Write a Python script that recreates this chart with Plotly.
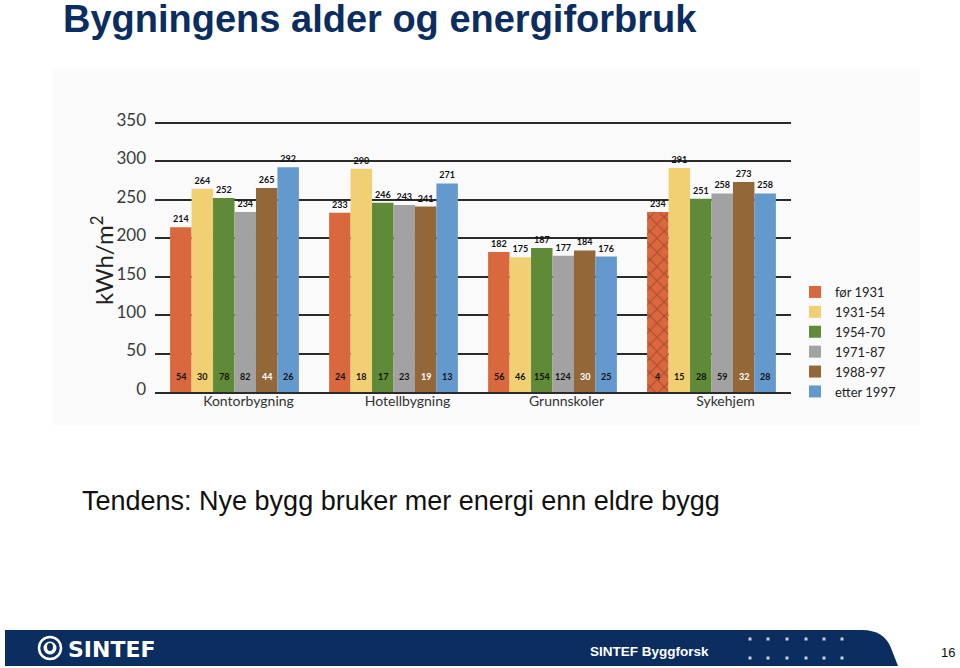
import plotly.graph_objects as go

W, H = 960, 668

# Data
BUILDINGS = ["Kontorbygning", "Hotellbygning", "Grunnskoler", "Sykehjem"]
PERIODS = ["før 1931", "1931-54", "1954-70", "1971-87", "1988-97", "etter 1997"]
KWH = {
    "før 1931":   [214, 233, 182, 234],
    "1931-54":    [264, 290, 175, 291],
    "1954-70":    [252, 246, 187, 251],
    "1971-87":    [234, 243, 177, 258],
    "1988-97":    [265, 241, 184, 273],
    "etter 1997": [292, 271, 176, 258],
}
COUNTS = {
    "før 1931":   [54, 24, 56, 4],
    "1931-54":    [30, 18, 46, 15],
    "1954-70":    [78, 17, 154, 28],
    "1971-87":    [82, 23, 124, 59],
    "1988-97":    [44, 19, 30, 32],
    "etter 1997": [26, 13, 25, 28],
}
HATCHED = ["", "", "", "x"]  # Sykehjem før 1931 is hatched
YTICKS = [0, 50, 100, 150, 200, 250, 300, 350]

# Palette
COLORS = ["#d9683f", "#f1cf73", "#5f8a37", "#a2a2a2", "#936737", "#6399cc"]
COUNT_TXT = ["#111", "#111", "#111", "#111", "#ffffff", "#111"]
NAVY = "#0b2d60"
GRID = "#2b2b2b"
FONT = "Lato"


def px(x):
    return x / W


def py(y):
    return 1 - y / H


# plot area in pixels: value 0 at Y0, 350 at Y350; range padded a bit so the
# top gridline sits inside the plot area
X0, X1 = 155, 791
Y0, Y350 = 392, 122.7
YMAX = 356
Y1 = Y0 - (Y0 - Y350) * YMAX / 350
BARGAP = 0.19
bar_px = (X1 - X0) / len(BUILDINGS) * (1 - BARGAP) / len(PERIODS)

fig = go.Figure()
for i, p in enumerate(PERIODS):
    fig.add_bar(
        x=BUILDINGS, y=KWH[p], name=p,
        marker=dict(color=COLORS[i], line_width=0,
                    pattern=dict(shape=HATCHED if i == 0 else "",
                                 fgcolor="#7a2e14", size=10, solidity=0.2)),
        text=KWH[p], textposition="outside", constraintext="none",
        textfont=dict(family=FONT, size=9, color="#111", weight="bold"),
        cliponaxis=False,
    )

# counts near bar bottoms
for i, p in enumerate(PERIODS):
    for b, c in zip(BUILDINGS, COUNTS[p]):
        fig.add_annotation(
            x=b, y=0, yshift=16, xshift=(i - (len(PERIODS) - 1) / 2) * bar_px,
            text=str(c), showarrow=False,
            font=dict(family=FONT, size=9, color=COUNT_TXT[i], weight="bold"),
        )

fig.update_layout(
    width=W, height=H, autosize=False,
    margin=dict(l=0, r=0, t=0, b=0, autoexpand=False),
    paper_bgcolor="white", plot_bgcolor="rgba(0,0,0,0)",
    barmode="group", bargap=BARGAP, bargroupgap=0,
    font=dict(family=FONT, color="#333"),
    xaxis=dict(domain=[px(X0), px(X1)], showgrid=False, showline=True,
               linecolor=GRID, linewidth=2, ticks="", automargin=False,
               tickfont=dict(family=FONT, size=14, color="#333"),
               ticklabelshift=14, ticklabelstandoff=-5),
    yaxis=dict(domain=[py(Y0), py(Y1)], range=[0, YMAX], tickvals=YTICKS,
               showgrid=True, gridcolor=GRID, gridwidth=1.5, zeroline=False,
               ticks="", ticklabelstandoff=8, ticklabelshift=-3, automargin=False,
               tickfont=dict(family=FONT, size=17, color="#3a3a3a")),
    legend=dict(x=px(795), y=py(277), xanchor="left", yanchor="top",
                font=dict(family=FONT, size=13, color="#222"),
                bgcolor="rgba(0,0,0,0)", tracegroupgap=0),
    showlegend=True,
)

shapes = [
    # faint background of the embedded chart image
    dict(type="rect", xref="paper", yref="paper", x0=px(53), x1=px(920),
         y0=py(425), y1=py(68), fillcolor="#fafafa", line_width=0, layer="below"),
    # footer band with rounded right end
    dict(type="path", xref="paper", yref="paper", layer="above", line_width=0,
         fillcolor=NAVY,
         path=f"M {px(5)},{py(630)} L {px(862)},{py(630)} "
              f"Q {px(884)},{py(630)} {px(891)},{py(648)} "
              f"L {px(898)},{py(666)} L {px(5)},{py(666)} Z"),
    # SINTEF logo rings
    dict(type="circle", xref="paper", yref="paper", x0=px(39), x1=px(61),
         y0=py(659), y1=py(637), line=dict(color="white", width=2.5)),
    dict(type="circle", xref="paper", yref="paper", x0=px(43.5), x1=px(56.5),
         y0=py(654.5), y1=py(641.5), fillcolor="white", line_width=0),
    dict(type="circle", xref="paper", yref="paper", x0=px(47), x1=px(53),
         y0=py(651), y1=py(643), fillcolor=NAVY, line_width=0),
]
for yy in (639, 658):
    for xx in (750, 768, 787, 806, 824, 842):
        shapes.append(dict(type="rect", xref="paper", yref="paper",
                           x0=px(xx - 1.5), x1=px(xx + 1.5),
                           y0=py(yy + 1.5), y1=py(yy - 1.5),
                           fillcolor="#c9d2e3", line_width=0))
fig.update_layout(shapes=shapes)

texts = [
    dict(x=px(61), y=py(19), text="<b>Bygningens alder og energiforbruk</b>",
         xanchor="left", yanchor="middle",
         font=dict(family="Liberation Sans", size=38, color=NAVY)),
    dict(x=px(80), y=py(501), text="Tendens: Nye bygg bruker mer energi enn eldre bygg",
         xanchor="left", yanchor="middle",
         font=dict(family="Liberation Sans", size=27, color="#111")),
    dict(x=px(102), y=py(261), text="kWh/m<sup>2</sup>", textangle=-90,
         xanchor="center", yanchor="middle",
         font=dict(family=FONT, size=24, color="#222")),
    dict(x=px(66), y=py(649), text="<b>SINTEF</b>", xanchor="left", yanchor="middle",
         font=dict(family="DejaVu Sans", size=22, color="white")),
    dict(x=px(588), y=py(651), text="<b>SINTEF Byggforsk</b>", xanchor="left",
         yanchor="middle", font=dict(family="Liberation Sans", size=13.5, color="white")),
    dict(x=px(957), y=py(652), text="16", xanchor="right", yanchor="middle",
         font=dict(family="Liberation Sans", size=13, color="#111")),
]
for t in texts:
    fig.add_annotation(xref="paper", yref="paper", showarrow=False, **t)

fig.write_html(
    "out.html",
    config={"displayModeBar": False},
    post_script="document.body.style.margin='0';document.body.style.overflow='hidden';",
)
